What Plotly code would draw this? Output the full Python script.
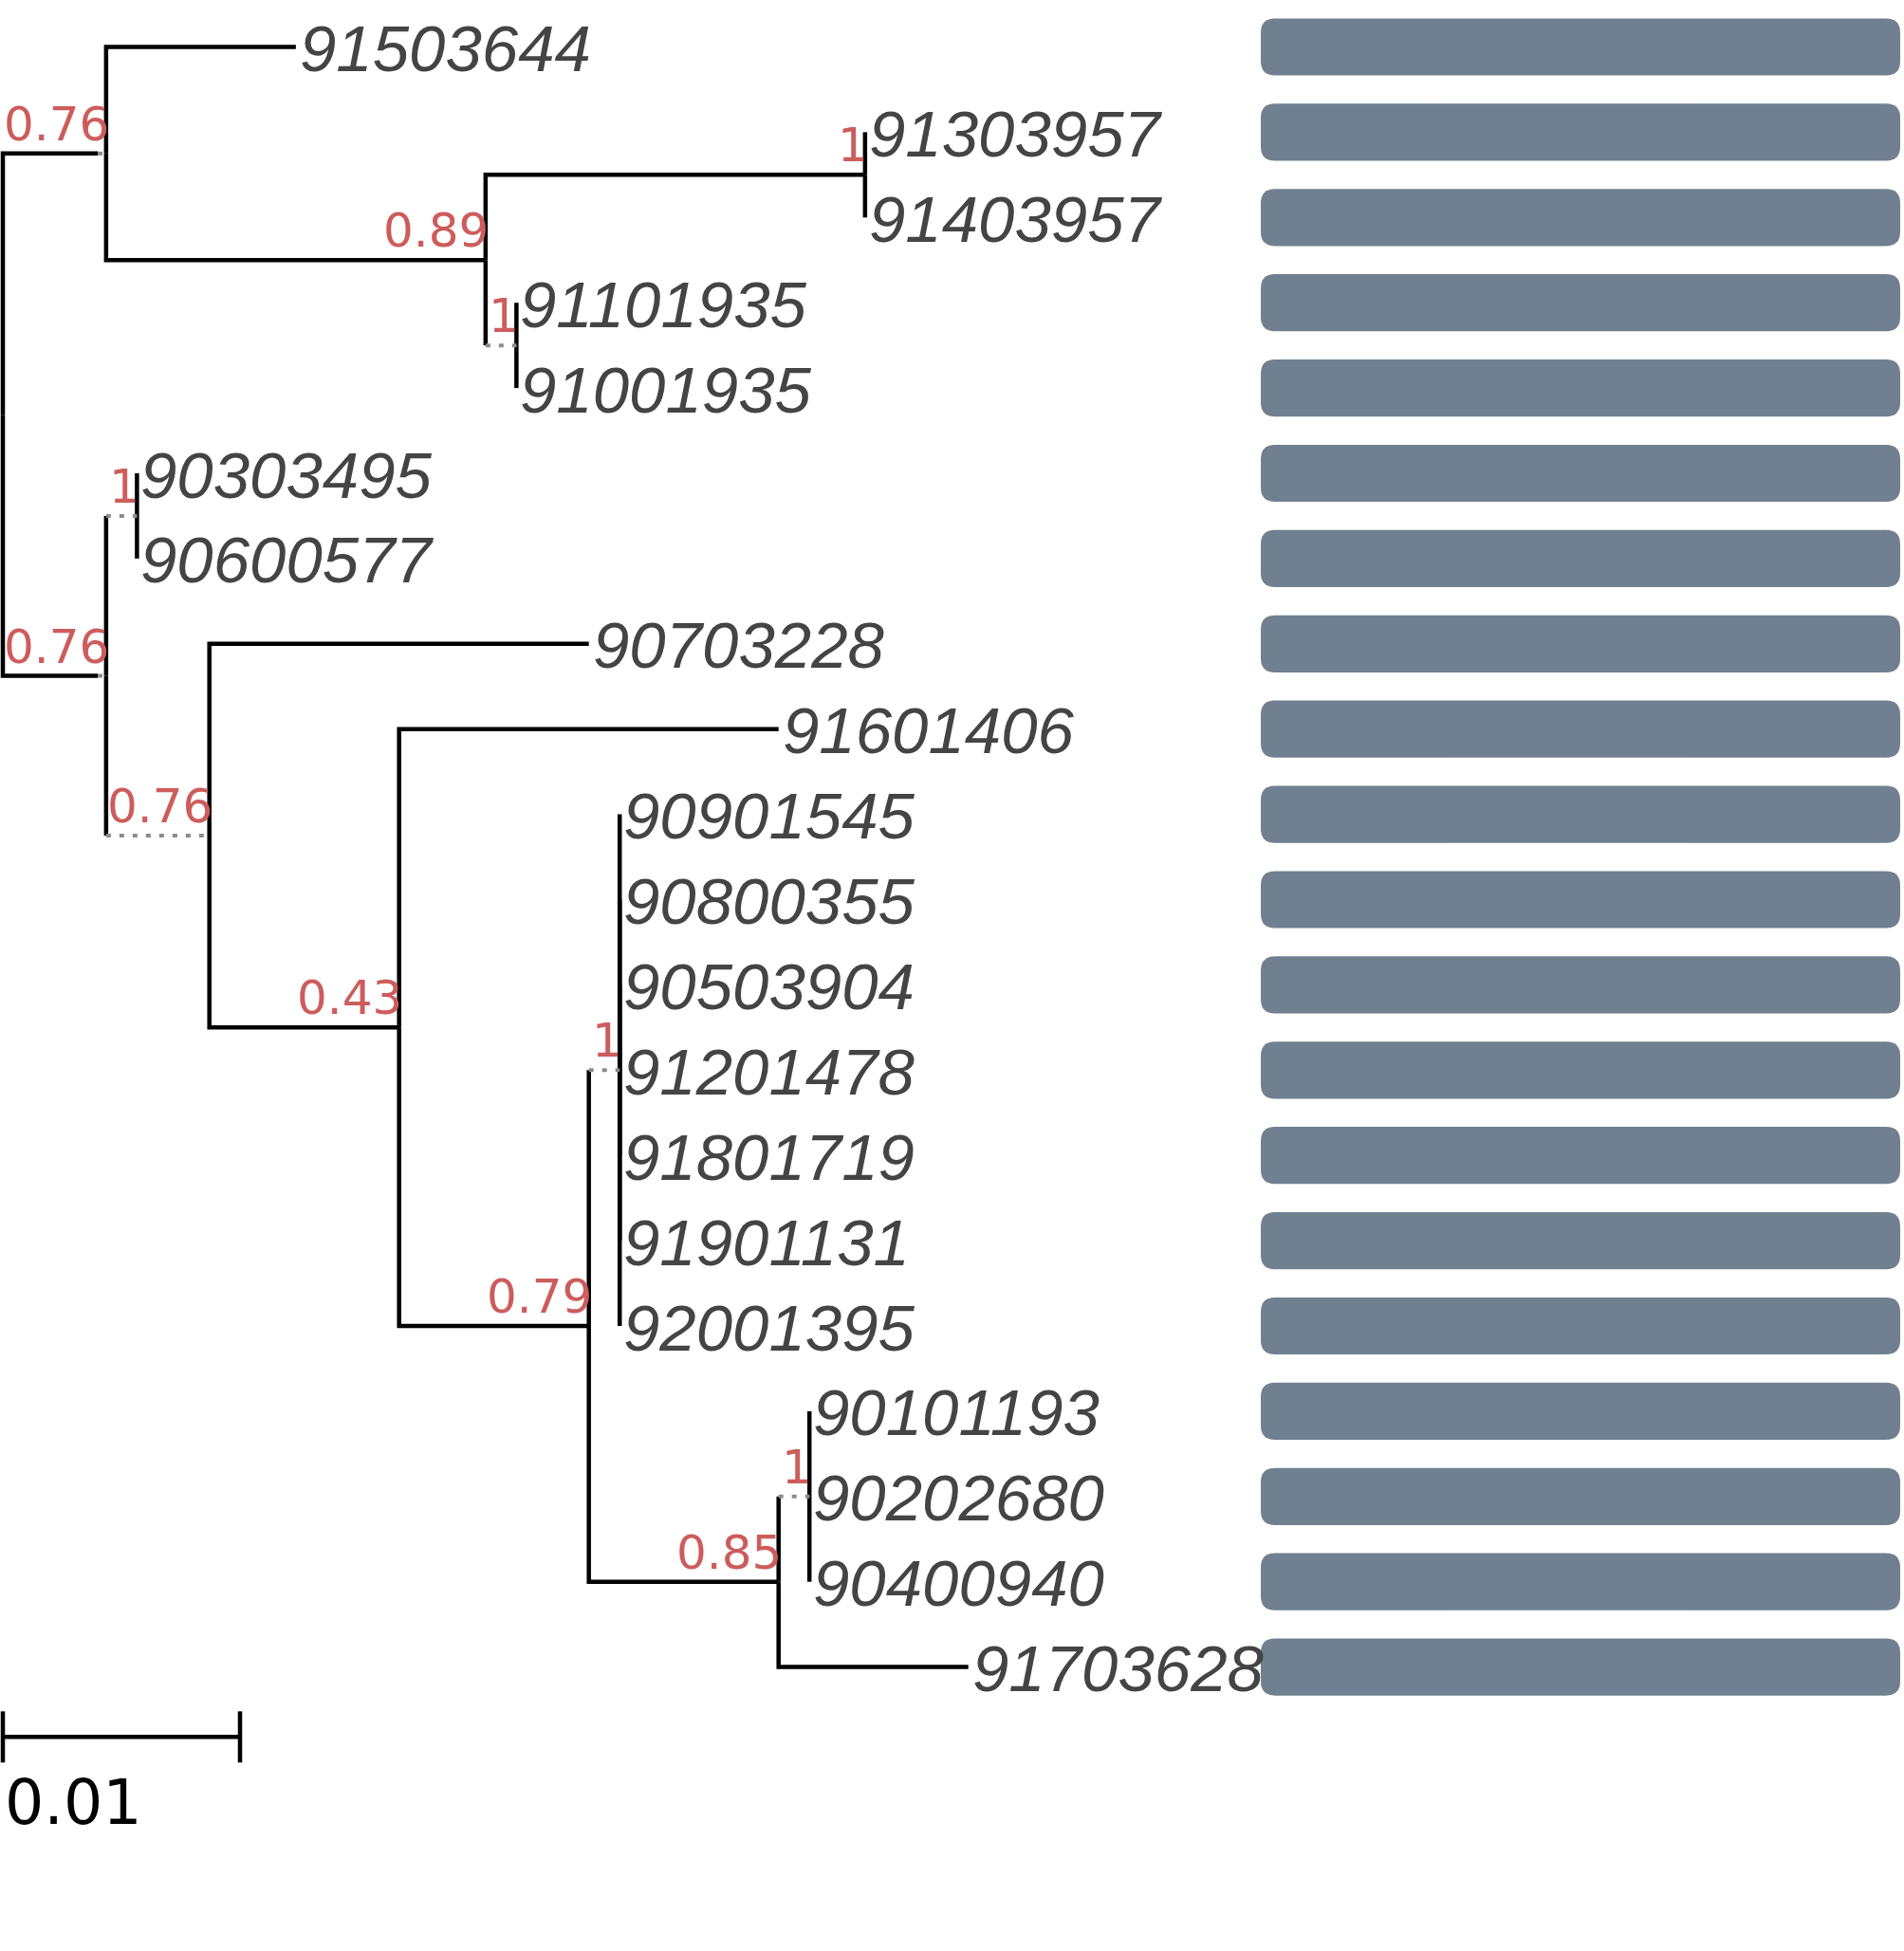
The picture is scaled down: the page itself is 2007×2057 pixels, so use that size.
import plotly.graph_objects as go

# tree topology: internal node -> children, listed top to bottom
children = {
    "root": ["n1", "n2"],
    "n1": ["91503644", "n3"],
    "n3": ["n4", "n5"],
    "n4": ["91303957", "91403957"],
    "n5": ["91101935", "91001935"],
    "n2": ["n6", "n7"],
    "n6": ["90303495", "90600577"],
    "n7": ["90703228", "n8"],
    "n8": ["91601406", "n9"],
    "n9": ["n10", "n11"],
    "n10": ["90901545", "90800355", "90503904", "91201478",
            "91801719", "91901131", "92001395"],
    "n11": ["n12", "91703628"],
    "n12": ["90101193", "90202680", "90400940"],
}

# branch lengths (subst./site) read against the 0.01 scale bar; missing = 0
branch_len = {
    "n1": 0.004, "91503644": 0.008, "n3": 0.016, "n4": 0.016,
    "n2": 0.004, "90703228": 0.016, "n8": 0.008, "91601406": 0.016,
    "n9": 0.008, "n11": 0.008, "91703628": 0.008,
}

# node support values
support = {
    "n1": 0.76, "n3": 0.89, "n4": 1, "n5": 1,
    "n2": 0.76, "n6": 1, "n7": 0.76, "n8": 0.43,
    "n9": 0.79, "n10": 1, "n11": 0.85, "n12": 1,
}

# the strip column on the right (same value for every leaf)
strip_values = [1, 1, 1, 1, 1, 1, 1, 1, 1, 1,
                1, 1, 1, 1, 1, 1, 1, 1, 1, 1]

scale_len = 0.01

# page geometry
W, H = 2007, 2057
PX_PER_UNIT = 25000          # 0.01 -> 250 px
ROOT_PX = 3
ROW_PX = 89.9
FIRST_ROW_PX = 49.5
STRIP_LEFT, STRIP_RIGHT = 1329, 2003
SUPPORT_SIZE = 48


def label_width(txt):
    # DejaVu Sans advance widths, converted to tree units
    adv = sum(0.318 if ch == "." else 0.636 for ch in txt)
    return (adv * SUPPORT_SIZE + 2) / PX_PER_UNIT


def fmt(v):
    return f"{v:g}"


# ---- lay the tree out ----
pos_x, pos_y = {}, {}
solid, dotted = [], []
leaf_order = []


def place(node, x):
    pos_x[node] = x
    if node not in children:
        pos_y[node] = len(leaf_order)
        leaf_order.append(node)
        return
    for c in children[node]:
        bl = branch_len.get(c, 0)
        ext = bl
        if c in support:
            ext = max(bl, label_width(fmt(support[c])))
        place(c, x + ext)
    kids = children[node]
    pos_y[node] = (pos_y[kids[0]] + pos_y[kids[-1]]) / 2
    for c in kids:
        bl = branch_len.get(c, 0)
        solid.append(([x, x, x + bl], [pos_y[node], pos_y[c], pos_y[c]]))
        if pos_x[c] - x > bl + 1e-9:
            dotted.append(([x + bl, pos_x[c]], [pos_y[c], pos_y[c]]))


place("root", 0)


def join(segs):
    xs, ys = [], []
    for sx, sy in segs:
        xs += sx + [None]
        ys += sy + [None]
    return xs, ys


fig = go.Figure()

sx, sy = join(solid)
fig.add_trace(go.Scatter(x=sx, y=sy, mode="lines", hoverinfo="skip",
                         line=dict(color="black", width=4.5)))
dx, dy = join(dotted)
fig.add_trace(go.Scatter(x=dx, y=dy, mode="lines", hoverinfo="skip",
                         line=dict(color="#8c8c8c", width=4, dash="5px,9px")))

# scale bar under the last leaf
n = len(leaf_order)
bar_y = n - 1 + 0.82
tick = 0.3
fig.add_trace(go.Scatter(
    x=[0, scale_len, None, 0, 0, None, scale_len, scale_len],
    y=[bar_y, bar_y, None, bar_y - tick, bar_y + tick, None, bar_y - tick, bar_y + tick],
    mode="lines", hoverinfo="skip", line=dict(color="black", width=4.5)))

annotations = []
for leaf in leaf_order:
    annotations.append(dict(
        x=pos_x[leaf], y=pos_y[leaf], text=leaf, showarrow=False,
        xanchor="left", yanchor="middle", xshift=2, yshift=-2,
        font=dict(family="Liberation Sans, Arial, sans-serif", size=69,
                  color="#444444", style="italic")))
for node, val in support.items():
    annotations.append(dict(
        x=pos_x[node], y=pos_y[node], text=fmt(val), showarrow=False,
        xanchor="right", yanchor="bottom", xshift=5,
        font=dict(family="DejaVu Sans", size=50, color="#cd5c5c")))
annotations.append(dict(
    x=0, y=bar_y + 0.33, text=fmt(scale_len), showarrow=False,
    xanchor="left", yanchor="top",
    font=dict(family="DejaVu Sans", size=65, color="black")))

# rounded strip boxes on a second x axis
half_h = 0.335
rx, ry = 15 / (STRIP_RIGHT - STRIP_LEFT), 15 / ROW_PX
shapes = []
for i, v in enumerate(strip_values):
    x0, x1 = 0, v
    y0, y1 = i - half_h, i + half_h
    path = (f"M {x0 + rx},{y0} L {x1 - rx},{y0} Q {x1},{y0} {x1},{y0 + ry} "
            f"L {x1},{y1 - ry} Q {x1},{y1} {x1 - rx},{y1} L {x0 + rx},{y1} "
            f"Q {x0},{y1} {x0},{y1 - ry} L {x0},{y0 + ry} Q {x0},{y0} {x0 + rx},{y0} Z")
    shapes.append(dict(type="path", path=path, xref="x2", yref="y",
                       fillcolor="#708090", line=dict(width=0), layer="below"))

fig.update_layout(
    width=W, height=H,
    margin=dict(l=0, r=0, t=0, b=0),
    paper_bgcolor="white", plot_bgcolor="white",
    showlegend=False,
    annotations=annotations,
    shapes=shapes,
    xaxis=dict(range=[-ROOT_PX / PX_PER_UNIT, (W - ROOT_PX) / PX_PER_UNIT],
               visible=False, fixedrange=True),
    xaxis2=dict(domain=[STRIP_LEFT / W, STRIP_RIGHT / W], range=[0, 1],
                visible=False, fixedrange=True),
    yaxis=dict(range=[(H - FIRST_ROW_PX) / ROW_PX, -FIRST_ROW_PX / ROW_PX],
               visible=False, fixedrange=True),
)

# drop the default 8px body margin so the figure sits flush with the window
fig.write_html("out.html", config={"displayModeBar": False},
               post_script="document.body.style.margin = '0';")
